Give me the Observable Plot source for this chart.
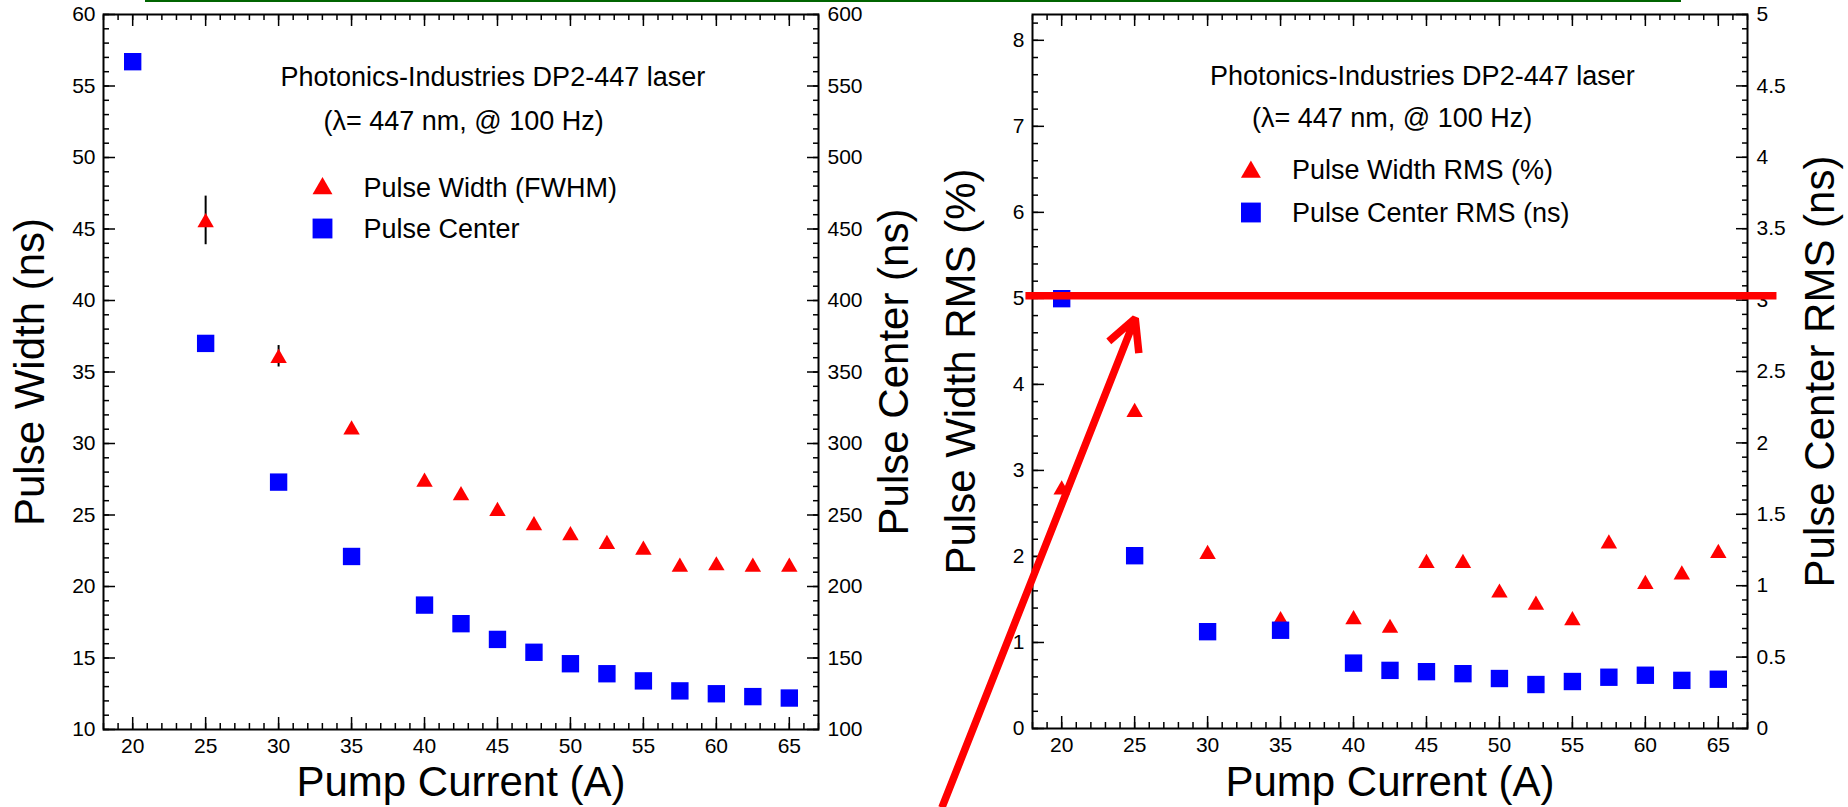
<!DOCTYPE html>
<html>
<head>
<meta charset="utf-8">
<script src="https://cdn.jsdelivr.net/npm/d3@7"></script>
<script src="https://cdn.jsdelivr.net/npm/@observablehq/plot@0.6"></script>
<style>
  html, body { margin: 0; padding: 0; background: #ffffff; overflow: hidden; }
  #page { position: relative; width: 1848px; height: 807px; background: #ffffff; overflow: hidden; }
  #left, #right { position: absolute; top: 0; }
  #left { left: 0; }
  #right { left: 924px; }
  #topline { position: absolute; left: 145px; top: 0; width: 1536px; height: 2px; background: #006400; }
</style>
</head>
<body>
<div id="page">
  <div id="left"></div>
  <div id="right"></div>
  <div id="topline"></div>
</div>
<script>
// ---------------- data ----------------
const pumpCurrent   = [20, 25, 30, 35, 40, 42.5, 45, 47.5, 50, 52.5, 55, 57.5, 60, 62.5, 65];
// left panel: pulse width FWHM (ns) with error, pulse center (ns)
const pulseWidth    = [null, 45.6, 36.1, 31.1, 27.45, 26.5, 25.4, 24.4, 23.7, 23.1, 22.7, 21.5, 21.6, 21.5, 21.5];
const pulseWidthErr = [0, 1.7, 0.75, 0, 0, 0, 0, 0, 0, 0, 0, 0, 0, 0, 0];
const pulseCenter   = [567, 370, 273, 221, 187, 174, 163, 154, 146, 139, 134, 127, 125, 123, 122];
// right panel: pulse width RMS (%), pulse center RMS (ns)
const widthRMS      = [2.8, 3.7, 2.05, 1.28, 1.29, 1.19, 1.945, 1.945, 1.6, 1.46, 1.28, 2.17, 1.70, 1.81, 2.06];
const centerRMS     = [3.01, 1.21, 0.678, 0.688, 0.458, 0.407, 0.398, 0.384, 0.350, 0.308, 0.329, 0.359, 0.373, 0.337, 0.345];

// text
const titleLine1 = "Photonics-Industries DP2-447 laser";
const titleLine2 = "(\u03bb= 447 nm, @ 100 Hz)";
const leftLegend  = ["Pulse Width (FWHM)", "Pulse Center"];
const rightLegend = ["Pulse Width RMS (%)", "Pulse Center RMS (ns)"];
const xTitle = "Pump Current (A)";
const leftYTitle = "Pulse Width (ns)";
const leftY2Title = "Pulse Center (ns)";
const rightYTitle = "Pulse Width RMS (%)";
const rightY2Title = "Pulse Center RMS (ns)";

// axis ranges / ticks
const xDomain = [18, 67];
const xMajor = d3.range(20, 65.5, 5);
const xMinor = d3.range(18, 67.5, 1);
const leftYDomain = [10, 60];
const leftY2Factor = 10;            // right axis (ns) = left units * 10
const rightYDomain = [0, 8.3];
const rightY2Factor = 8.3 / 5;      // right axis 0..5 maps to 0..8.3

// hand-drawn red annotations on the right panel (data coordinates)
const redLine  = [{y: 5.03, x1: 17.55, x2: 69.02}];
const redArrow = [{x1: 11.79, y1: -0.92, x2: 25.04, y2: 4.767}];

// ---------------- rows ----------------
const widthRows = pumpCurrent.map((c, i) => ({c, v: pulseWidth[i], e: pulseWidthErr[i]})).filter(d => d.v != null);
const centerRows = pumpCurrent.map((c, i) => ({c, v: pulseCenter[i] / leftY2Factor}));
const wRmsRows = pumpCurrent.map((c, i) => ({c, v: widthRMS[i]}));
const cRmsRows = pumpCurrent.map((c, i) => ({c, v: centerRMS[i] * rightY2Factor}));

const FONT = "'Liberation Sans', Arial, Helvetica, sans-serif";
const RED = "#ff0000", BLUE = "#0000ff";

function frameAxes({yMajor, yMinor, y2Major, y2Minor, yFormat, y2Format}) {
  const tick = {stroke: "black", strokeWidth: 1.5, fill: "none", label: null};
  return [
    Plot.axisX({anchor: "bottom", ticks: xMinor, tickSize: -6, ...tick}),
    Plot.axisX({anchor: "bottom", ticks: xMajor, tickSize: -12, ...tick}),
    Plot.axisX({anchor: "top", ticks: xMinor, tickSize: -5, ...tick}),
    Plot.axisX({anchor: "top", ticks: xMajor, tickSize: -11, ...tick}),
    Plot.axisX({anchor: "bottom", ticks: xMajor, tickSize: 0, tickPadding: 9, fontSize: 21, label: null}),
    Plot.axisY({anchor: "left", ticks: yMinor, tickSize: -6, ...tick}),
    Plot.axisY({anchor: "left", ticks: yMajor, tickSize: -12, ...tick}),
    Plot.axisY({anchor: "left", ticks: yMajor, tickSize: 0, tickPadding: 8, fontSize: 21, tickFormat: yFormat, label: null}),
    Plot.axisY({anchor: "right", ticks: y2Minor, tickSize: -6, ...tick}),
    Plot.axisY({anchor: "right", ticks: y2Major, tickSize: -12, ...tick}),
    Plot.axisY({anchor: "right", ticks: y2Major, tickSize: 0, tickPadding: 9, fontSize: 21, tickFormat: y2Format, label: null})
  ];
}

function label(str, opts) {
  return Plot.text([str], {text: d => d, fill: "black", ...opts});
}

// ---------------- left panel ----------------
const left = Plot.plot({
  width: 924, height: 807,
  marginLeft: 103, marginRight: 106, marginTop: 14, marginBottom: 78,
  style: {fontFamily: FONT, fontSize: "21px", color: "black", background: "transparent", overflow: "visible"},
  x: {domain: xDomain, axis: null},
  y: {domain: leftYDomain, axis: null},
  marks: [
    ...frameAxes({
      yMajor: d3.range(10, 60.5, 5),
      yMinor: d3.range(10, 60.5, 1),
      y2Major: d3.range(10, 60.5, 5),
      y2Minor: d3.range(10, 60.5, 1),
      yFormat: d => String(d),
      y2Format: d => String(Math.round(d * leftY2Factor))
    }),
    Plot.frame({stroke: "black", strokeWidth: 2}),
    Plot.ruleX(widthRows.filter(d => d.e > 0), {x: "c", y1: d => d.v - d.e, y2: d => d.v + d.e, stroke: "black", strokeWidth: 2}),
    Plot.dot(widthRows, {x: "c", y: "v", symbol: "triangle", r: 6.1, fill: RED, dy: 2}),
    Plot.dot(centerRows, {x: "c", y: "v", symbol: "square", r: 9.8, fill: BLUE}),
    label(titleLine1, {frameAnchor: "top-left", dx: 177, dy: 71, textAnchor: "start", lineAnchor: "bottom", fontSize: 27}),
    label(titleLine2, {frameAnchor: "top-left", dx: 220, dy: 115, textAnchor: "start", lineAnchor: "bottom", fontSize: 27}),
    Plot.dot([0], {frameAnchor: "top-left", dx: 219, dy: 174, symbol: "triangle", r: 7.4, fill: RED}),
    Plot.dot([0], {frameAnchor: "top-left", dx: 219, dy: 214, symbol: "square", r: 11.2, fill: BLUE}),
    label(leftLegend[0], {frameAnchor: "top-left", dx: 260, dy: 182.7, textAnchor: "start", lineAnchor: "bottom", fontSize: 27}),
    label(leftLegend[1], {frameAnchor: "top-left", dx: 260, dy: 223.7, textAnchor: "start", lineAnchor: "bottom", fontSize: 27}),
    label(xTitle, {frameAnchor: "bottom", dy: 66, textAnchor: "middle", lineAnchor: "bottom", fontSize: 42}),
    label(leftYTitle, {frameAnchor: "left", dx: -60, rotate: -90, textAnchor: "middle", lineAnchor: "bottom", fontSize: 42}),
    label(leftY2Title, {frameAnchor: "right", dx: 89, rotate: -90, textAnchor: "middle", lineAnchor: "bottom", fontSize: 42})
  ]
});
document.getElementById("left").appendChild(left);

// ---------------- right panel ----------------
const right = Plot.plot({
  width: 924, height: 807,
  marginLeft: 108, marginRight: 101, marginTop: 14, marginBottom: 79,
  style: {fontFamily: FONT, fontSize: "21px", color: "black", background: "transparent", overflow: "visible"},
  x: {domain: xDomain, axis: null},
  y: {domain: rightYDomain, axis: null},
  marks: [
    ...frameAxes({
      yMajor: d3.range(0, 9).filter(v => v <= 8.3),
      yMinor: d3.range(0, 42).map(i => i * 0.2),
      y2Major: d3.range(0, 11).map(i => i * 0.5 * rightY2Factor),
      y2Minor: d3.range(0, 51).map(i => i * 0.1 * rightY2Factor),
      yFormat: d => String(d),
      y2Format: d => String(Math.round(d / rightY2Factor * 10) / 10)
    }),
    Plot.frame({stroke: "black", strokeWidth: 2}),
    Plot.dot(wRmsRows, {x: "c", y: "v", symbol: "triangle", r: 6.1, fill: RED, dy: 2}),
    Plot.dot(cRmsRows, {x: "c", y: "v", symbol: "square", r: 9.8, fill: BLUE}),
    label(titleLine1, {frameAnchor: "top-left", dx: 177.5, dy: 70, textAnchor: "start", lineAnchor: "bottom", fontSize: 27}),
    label(titleLine2, {frameAnchor: "top-left", dx: 219.4, dy: 112, textAnchor: "start", lineAnchor: "bottom", fontSize: 27}),
    Plot.dot([0], {frameAnchor: "top-left", dx: 218.4, dy: 157.5, symbol: "triangle", r: 7.4, fill: RED}),
    Plot.dot([0], {frameAnchor: "top-left", dx: 218.4, dy: 198, symbol: "square", r: 11.2, fill: BLUE}),
    label(rightLegend[0], {frameAnchor: "top-left", dx: 259.4, dy: 164.7, textAnchor: "start", lineAnchor: "bottom", fontSize: 27}),
    label(rightLegend[1], {frameAnchor: "top-left", dx: 259.4, dy: 207.4, textAnchor: "start", lineAnchor: "bottom", fontSize: 27}),
    label(xTitle, {frameAnchor: "bottom", dy: 67, textAnchor: "middle", lineAnchor: "bottom", fontSize: 42}),
    label(rightYTitle, {frameAnchor: "left", dx: -58, rotate: -90, textAnchor: "middle", lineAnchor: "bottom", fontSize: 42}),
    label(rightY2Title, {frameAnchor: "right", dx: 86, rotate: -90, textAnchor: "middle", lineAnchor: "bottom", fontSize: 42}),
    Plot.ruleY(redLine, {y: "y", x1: "x1", x2: "x2", stroke: RED, strokeWidth: 7.5}),
    Plot.arrow(redArrow, {x1: "x1", y1: "y1", x2: "x2", y2: "y2", stroke: RED, strokeWidth: 7.5, headLength: 7, headAngle: 55, strokeLinecap: "butt"})
  ]
});
document.getElementById("right").appendChild(right);
</script>
</body>
</html>
